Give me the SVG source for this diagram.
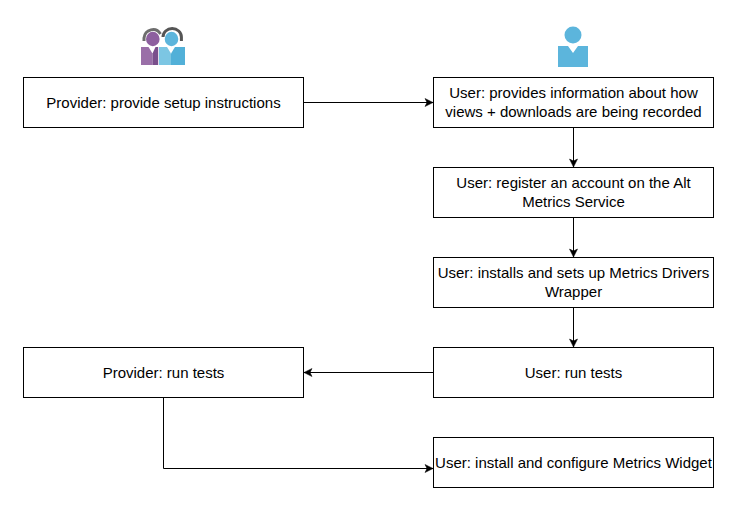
<svg xmlns="http://www.w3.org/2000/svg" width="735" height="507" viewBox="0 0 735 507">
<style>
.b{fill:#fff;stroke:#000;stroke-width:1}
.t{font-family:"Liberation Sans",Arial,sans-serif;font-size:15px;fill:#000;text-anchor:middle}
.c{fill:none;stroke:#000;stroke-width:1}
</style>
<defs>
<marker id="a" markerUnits="userSpaceOnUse" markerWidth="10" markerHeight="10" refX="8" refY="4" orient="auto" overflow="visible">
<path d="M0 0L8 4L0 8L2 4Z" fill="#000" stroke="#000" stroke-width="0.5"/>
</marker>
</defs>
<rect width="735" height="507" fill="#fff"/>
<g id="icon-provider">
<path d="M144 41V38a9 9.500 0 0 1 16.500-4" fill="none" stroke="#6d6d6d" stroke-width="3"/>
<path d="M163 37a9.200 8.500 0 0 1 18.400 0v4" fill="none" stroke="#555" stroke-width="3"/>
<ellipse cx="152.800" cy="39" rx="6.800" ry="7.200" fill="#8d5f9f"/>
<path d="M141 47h7.500l4 6.500V65H141z" fill="#9a6fa8"/>
<path d="M152.500 53.500l3-6.500h2.700v18h-5.700z" fill="#7a4f8c"/>
<ellipse cx="171.500" cy="39" rx="6.800" ry="7.200" fill="#5cb5dc"/>
<path d="M159 47h8l4 6.500V65h-12z" fill="#7cc6e3"/>
<path d="M171 53.500l4-6.500h10v18h-14z" fill="#52b0d8"/>
</g>
<g id="icon-user">
<circle cx="573" cy="35" r="8.500" fill="#5cb5dc"/>
<path d="M558 46h10l5 7 5-7h10v21h-30z" fill="#5cb5dc"/>
</g>
<g id="connectors">
<path class="c" marker-end="url(#a)" d="M303.500 102.500H433"/>
<path class="c" marker-end="url(#a)" d="M573.500 127.500V167"/>
<path class="c" marker-end="url(#a)" d="M573.500 217.500V257"/>
<path class="c" marker-end="url(#a)" d="M573.500 307.500V347"/>
<path class="c" marker-end="url(#a)" d="M433.500 372.500H304"/>
<path class="c" marker-end="url(#a)" d="M163.500 397.500V468.500H433"/>
</g>
<g id="n1"><rect class="b" x="23.500" y="77.500" width="280" height="50"/><text class="t" x="163.500" y="107.500">Provider: provide setup instructions</text></g>
<g id="n2"><rect class="b" x="433.500" y="77.500" width="280" height="50"/><text class="t" x="573.500" y="98">User: provides information about how</text><text class="t" x="573.500" y="117">views + downloads are being recorded</text></g>
<g id="n3"><rect class="b" x="433.500" y="167.500" width="280" height="50"/><text class="t" x="573.500" y="188">User: register an account on the Alt</text><text class="t" x="573.500" y="207">Metrics Service</text></g>
<g id="n4"><rect class="b" x="433.500" y="257.500" width="280" height="50"/><text class="t" x="573.500" y="278">User: installs and sets up Metrics Drivers</text><text class="t" x="573.500" y="297">Wrapper</text></g>
<g id="n5"><rect class="b" x="433.500" y="347.500" width="280" height="50"/><text class="t" x="573.500" y="377.500">User: run tests</text></g>
<g id="n6"><rect class="b" x="23.500" y="347.500" width="280" height="50"/><text class="t" x="163.500" y="377.500">Provider: run tests</text></g>
<g id="n7"><rect class="b" x="433.500" y="437.500" width="280" height="50"/><text class="t" x="573.500" y="467.500">User: install and configure Metrics Widget</text></g>
</svg>
